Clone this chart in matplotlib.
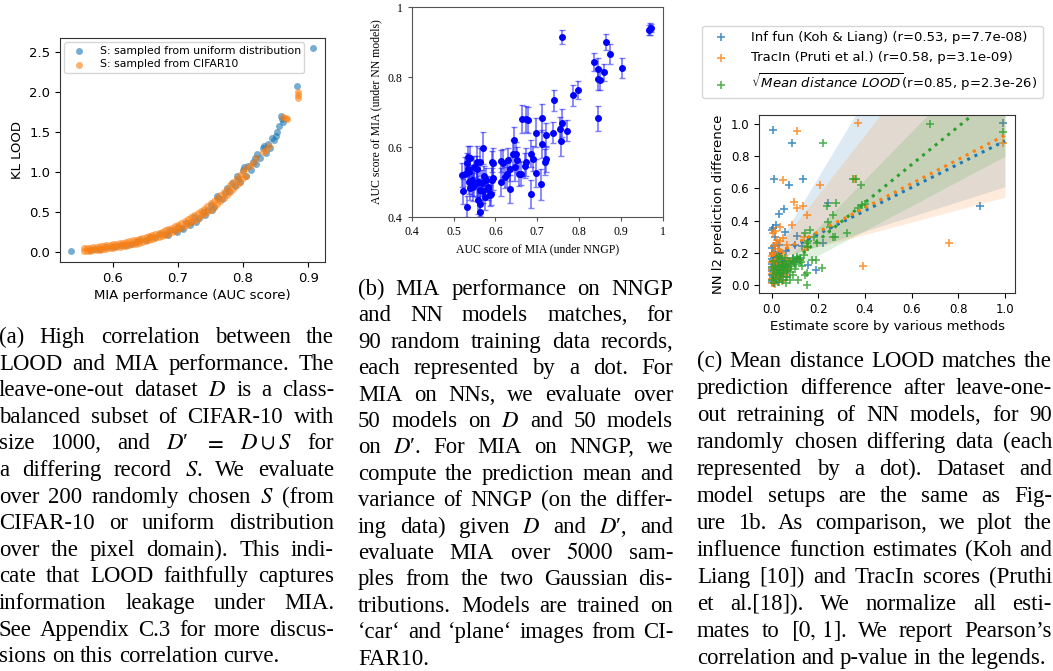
import re

import matplotlib
matplotlib.use("Agg")
import matplotlib.pyplot as plt
from matplotlib.ticker import FuncFormatter


FIG_W = 1053
FIG_H = 671
DPI = 100

BLUE = "#1f77b4"
ORANGE = "#ff7f0e"
GREEN = "#2ca02c"

# panel (a): KL LOOD against MIA AUC
UNIFORM_AUC = [0.535, 0.565, 0.572, 0.580, 0.590, 0.598, 0.605, 0.612, 0.620, 0.628,
	0.635, 0.642, 0.650, 0.657, 0.665, 0.672, 0.680, 0.688, 0.695, 0.700,
	0.705, 0.712, 0.720, 0.725, 0.732, 0.738, 0.745, 0.750, 0.755, 0.762,
	0.768, 0.772, 0.778, 0.783, 0.788, 0.792, 0.796, 0.800, 0.805, 0.808,
	0.812, 0.815, 0.820, 0.822, 0.826, 0.830, 0.835, 0.838, 0.842, 0.845,
	0.848, 0.852, 0.855, 0.858, 0.862, 0.860, 0.883, 0.907, 0.685, 0.698,
	0.708, 0.718, 0.728, 0.742, 0.752, 0.760, 0.775, 0.790, 0.802, 0.818,
	0.832, 0.850]
UNIFORM_KL = [0.010, 0.028, 0.032, 0.040, 0.058, 0.066, 0.080, 0.088, 0.092, 0.105,
	0.125, 0.150, 0.155, 0.185, 0.185, 0.220, 0.230, 0.275, 0.270, 0.310,
	0.300, 0.360, 0.380, 0.440, 0.430, 0.500, 0.520, 0.590, 0.560, 0.680,
	0.660, 0.740, 0.760, 0.860, 0.820, 0.910, 0.880, 1.020, 0.950, 1.070,
	1.030, 1.130, 1.100, 1.220, 1.170, 1.300, 1.240, 1.350, 1.300, 1.420,
	1.400, 1.500, 1.580, 1.700, 1.620, 1.660, 2.070, 2.550, 0.215, 0.255,
	0.290, 0.335, 0.380, 0.460, 0.520, 0.700, 0.800, 0.950, 1.060, 1.180,
	1.330, 1.450]

CIFAR_AUC = [0.556, 0.556, 0.560, 0.560, 0.565, 0.565, 0.570, 0.570, 0.575, 0.575,
	0.580, 0.580, 0.585, 0.585, 0.590, 0.590, 0.595, 0.595, 0.600, 0.600,
	0.605, 0.605, 0.610, 0.610, 0.615, 0.615, 0.620, 0.620, 0.625, 0.625,
	0.630, 0.630, 0.635, 0.635, 0.640, 0.640, 0.645, 0.645, 0.650, 0.650,
	0.655, 0.655, 0.660, 0.660, 0.665, 0.665, 0.670, 0.670, 0.675, 0.675,
	0.680, 0.680, 0.685, 0.685, 0.690, 0.690, 0.695, 0.695, 0.700, 0.700,
	0.705, 0.705, 0.710, 0.710, 0.715, 0.715, 0.720, 0.720, 0.725, 0.725,
	0.730, 0.730, 0.735, 0.735, 0.740, 0.740, 0.745, 0.745, 0.750, 0.750,
	0.755, 0.755, 0.760, 0.760, 0.765, 0.765, 0.770, 0.770, 0.775, 0.775,
	0.780, 0.780, 0.785, 0.785, 0.790, 0.790, 0.795, 0.795, 0.800, 0.800,
	0.805, 0.805, 0.810, 0.815, 0.820, 0.830, 0.835, 0.840, 0.862, 0.866,
	0.868, 0.885, 0.885, 0.885]
CIFAR_KL = [0.047, 0.011, 0.050, 0.013, 0.055, 0.017, 0.060, 0.021, 0.065, 0.025,
	0.070, 0.030, 0.076, 0.035, 0.082, 0.041, 0.088, 0.047, 0.095, 0.053,
	0.103, 0.059, 0.110, 0.065, 0.117, 0.072, 0.125, 0.079, 0.134, 0.087,
	0.144, 0.096, 0.153, 0.105, 0.163, 0.115, 0.174, 0.125, 0.186, 0.136,
	0.199, 0.147, 0.211, 0.159, 0.224, 0.172, 0.238, 0.185, 0.253, 0.199,
	0.270, 0.214, 0.286, 0.229, 0.304, 0.246, 0.323, 0.264, 0.343, 0.283,
	0.364, 0.303, 0.386, 0.324, 0.409, 0.346, 0.433, 0.369, 0.460, 0.392,
	0.486, 0.417, 0.514, 0.444, 0.543, 0.472, 0.574, 0.501, 0.607, 0.531,
	0.640, 0.564, 0.675, 0.597, 0.712, 0.632, 0.750, 0.669, 0.791, 0.707,
	0.832, 0.747, 0.874, 0.789, 0.919, 0.832, 0.965, 0.876, 1.012, 0.922,
	1.045, 0.955, 1.080, 1.110, 1.170, 1.250, 1.270, 1.330, 1.690, 1.670,
	1.660, 2.000, 1.960, 1.930]

# panel (b): MIA AUC on NNGP vs NN
NNGP_AUC = [0.968, 0.971, 0.966, 0.760, 0.864, 0.874, 0.836, 0.902, 0.846, 0.860,
	0.846, 0.850, 0.798, 0.786, 0.740, 0.846, 0.664, 0.674, 0.678, 0.712,
	0.760, 0.770, 0.755, 0.738, 0.697, 0.720, 0.645, 0.757, 0.710, 0.571,
	0.686, 0.642, 0.648, 0.689, 0.721, 0.718, 0.614, 0.618, 0.651, 0.629,
	0.673, 0.556, 0.564, 0.592, 0.594, 0.534, 0.540, 0.670, 0.647, 0.635,
	0.520, 0.528, 0.536, 0.628, 0.696, 0.661, 0.657, 0.622, 0.613, 0.594,
	0.578, 0.544, 0.548, 0.536, 0.556, 0.558, 0.568, 0.522, 0.546, 0.540,
	0.563, 0.571, 0.582, 0.588, 0.590, 0.635, 0.684, 0.709, 0.574, 0.559,
	0.562, 0.531, 0.562, 0.581, 0.532, 0.556, 0.534, 0.549, 0.573, 0.592]
NN_AUC = [0.937, 0.940, 0.935, 0.913, 0.900, 0.866, 0.843, 0.825, 0.823, 0.813,
	0.795, 0.792, 0.763, 0.748, 0.734, 0.682, 0.680, 0.680, 0.677, 0.682,
	0.669, 0.646, 0.651, 0.641, 0.641, 0.634, 0.620, 0.617, 0.608, 0.598,
	0.581, 0.581, 0.580, 0.567, 0.566, 0.557, 0.560, 0.553, 0.564, 0.562,
	0.556, 0.558, 0.556, 0.558, 0.553, 0.572, 0.570, 0.547, 0.543, 0.538,
	0.519, 0.524, 0.529, 0.522, 0.527, 0.524, 0.524, 0.513, 0.500, 0.512,
	0.507, 0.505, 0.497, 0.500, 0.496, 0.500, 0.497, 0.473, 0.486, 0.483,
	0.478, 0.475, 0.481, 0.462, 0.467, 0.479, 0.467, 0.493, 0.457, 0.448,
	0.436, 0.429, 0.413, 0.486, 0.553, 0.538, 0.536, 0.543, 0.517, 0.505]
NN_AUC_ERR = [0.016, 0.012, 0.014, 0.020, 0.022, 0.028, 0.026, 0.028, 0.030, 0.024,
	0.032, 0.030, 0.025, 0.030, 0.030, 0.035, 0.040, 0.038, 0.036, 0.040,
	0.040, 0.030, 0.035, 0.030, 0.042, 0.035, 0.036, 0.042, 0.040, 0.046,
	0.038, 0.040, 0.034, 0.035, 0.038, 0.036, 0.032, 0.040, 0.036, 0.034,
	0.040, 0.046, 0.040, 0.030, 0.045, 0.030, 0.034, 0.036, 0.040, 0.034,
	0.034, 0.046, 0.040, 0.036, 0.040, 0.032, 0.036, 0.030, 0.040, 0.036,
	0.032, 0.044, 0.036, 0.034, 0.040, 0.050, 0.036, 0.036, 0.040, 0.034,
	0.030, 0.036, 0.032, 0.030, 0.034, 0.040, 0.040, 0.045, 0.036, 0.040,
	0.032, 0.030, 0.036, 0.030, 0.030, 0.036, 0.032, 0.030, 0.030, 0.034]

# panel (c): normalised estimates vs NN prediction difference
INF_SCORE = [0.007, 0.086, 0.010, 0.074, 0.133, 0.993, 0.893, 0.243, 0.033, 0.053,
	0.019, 0.001, 0.007, 0.057, 0.110, 0.221, 0.157, 0.001, 0.007, 0.015,
	0.190, 0.000, 0.005, 0.010, 0.000, 0.015, 0.020, 0.025, 0.030, 0.005,
	0.010, 0.035, 0.040, 0.045, 0.050, 0.020, 0.000, 0.012, 0.028, 0.055,
	0.060, 0.008, 0.018, 0.033, 0.065, 0.070, 0.000, 0.004, 0.022, 0.042,
	0.080, 0.090, 0.100, 0.120, 0.003, 0.014, 0.026, 0.038, 0.048, 0.002,
	0.016, 0.011, 0.044, 0.009, 0.030, 0.060, 0.100, 0.130]
INF_DIFF = [0.963, 0.884, 0.656, 0.621, 0.656, 1.004, 0.493, 0.511, 0.439, 0.472,
	0.373, 0.342, 0.352, 0.327, 0.304, 0.263, 0.124, 0.228, 0.197, 0.300,
	0.093, 0.020, 0.050, 0.080, 0.100, 0.120, 0.040, 0.090, 0.150, 0.140,
	0.170, 0.060, 0.110, 0.030, 0.080, 0.160, 0.060, 0.010, 0.130, 0.120,
	0.050, 0.190, 0.070, 0.180, 0.150, 0.090, 0.130, 0.030, 0.110, 0.070,
	0.130, 0.160, 0.140, 0.170, 0.085, 0.045, 0.020, 0.095, 0.140, 0.160,
	0.205, 0.115, 0.165, 0.240, 0.250, 0.210, 0.250, 0.240]

TRAC_SCORE = [0.107, 0.371, 0.047, 0.207, 0.357, 0.097, 0.135, 0.107, 0.993, 0.760,
	0.390, 0.150, 0.086, 0.007, 0.021, 0.036, 0.036, 0.014, 0.050, 0.150,
	0.143, 0.121, 0.137, 0.040, 0.065, 0.028, 0.000, 0.004, 0.008, 0.002,
	0.012, 0.018, 0.024, 0.030, 0.006, 0.012, 0.034, 0.040, 0.046, 0.052,
	0.020, 0.000, 0.014, 0.026, 0.056, 0.062, 0.006, 0.016, 0.032, 0.068,
	0.072, 0.000, 0.002, 0.022, 0.044, 0.082, 0.010, 0.000, 0.018, 0.046,
	0.003, 0.030]
TRAC_DIFF = [0.958, 1.004, 0.652, 0.621, 0.658, 0.517, 0.490, 0.476, 0.880, 0.259,
	0.118, 0.435, 0.373, 0.321, 0.280, 0.270, 0.362, 0.335, 0.290, 0.238,
	0.217, 0.155, 0.300, 0.180, 0.250, 0.225, 0.010, 0.040, 0.075, 0.110,
	0.135, 0.055, 0.095, 0.160, 0.150, 0.185, 0.065, 0.120, 0.025, 0.090,
	0.170, 0.070, 0.005, 0.140, 0.130, 0.060, 0.200, 0.080, 0.190, 0.160,
	0.100, 0.140, 0.035, 0.120, 0.075, 0.140, 0.240, 0.180, 0.260, 0.200,
	0.095, 0.045]

LOOD_SCORE = [0.679, 0.993, 0.219, 0.350, 0.360, 0.381, 0.274, 0.236, 0.261, 0.371,
	0.386, 0.164, 0.143, 0.250, 0.271, 0.261, 0.324, 0.190, 0.214, 0.171,
	0.153, 0.143, 0.150, 0.114, 0.079, 0.050, 0.121, 0.093, 0.107, 0.140,
	0.150, 0.157, 0.043, 0.193, 0.157, 0.180, 0.400, 0.240, 0.000, 0.005,
	0.010, 0.015, 0.020, 0.025, 0.030, 0.035, 0.040, 0.045, 0.050, 0.055,
	0.060, 0.065, 0.070, 0.075, 0.080, 0.085, 0.090, 0.095, 0.100, 0.105,
	0.110, 0.012, 0.022, 0.032, 0.042, 0.052, 0.062, 0.008, 0.018, 0.028,
	0.038, 0.048, 0.058, 0.068, 0.003, 0.033, 0.125, 0.130]
LOOD_DIFF = [1.000, 0.952, 0.880, 0.656, 0.658, 0.621, 0.511, 0.493, 0.435, 0.476,
	0.497, 0.342, 0.321, 0.362, 0.300, 0.300, 0.321, 0.155, 0.104, 0.155,
	0.072, 0.062, 0.000, 0.031, 0.031, 0.072, 0.155, 0.166, 0.176, 0.186,
	0.263, 0.238, 0.124, 0.259, 0.270, 0.300, 0.500, 0.390, 0.030, 0.060,
	0.090, 0.120, 0.045, 0.100, 0.140, 0.070, 0.160, 0.110, 0.030, 0.090,
	0.130, 0.050, 0.110, 0.150, 0.080, 0.120, 0.060, 0.140, 0.100, 0.130,
	0.160, 0.010, 0.175, 0.020, 0.055, 0.145, 0.015, 0.150, 0.075, 0.110,
	0.095, 0.125, 0.165, 0.085, 0.110, 0.180, 0.140, 0.120]

# fitted lines and confidence bands, at x = 0 and x = 1
FIT_X = [0.0, 1.0]
INF_FIT = [0.172, 0.895]
TRAC_FIT = [0.180, 0.930]
LOOD_FIT = [0.040, 1.220]
INF_BAND_LOW = [0.150, 0.610]
INF_BAND_HIGH = [0.190, 2.600]
TRAC_BAND_LOW = [0.160, 0.545]
TRAC_BAND_HIGH = [0.190, 2.050]
LOOD_BAND_LOW = [0.030, 0.800]
LOOD_BAND_HIGH = [0.060, 1.550]

INF_LABEL = "Inf fun (Koh & Liang) (r=0.53, p=7.7e-08)"
TRAC_LABEL = "TracIn (Pruti et al.) (r=0.58, p=3.1e-09)"
LOOD_LABEL = r"$\sqrt{Mean\ distance\ LOOD}$(r=0.85, p=2.3e-26)"

CAPTION_A = [
	"(a) High correlation between the",
	"LOOD and MIA performance. The",
	"leave-one-out dataset $D$ is a class-",
	"balanced subset of CIFAR-10 with",
	"size 1000, and $D$\u2032 $=$ $D\\:\\cup\\:S$ for",
	"a differing record $S$. We evaluate",
	"over 200 randomly chosen $S$ (from",
	"CIFAR-10 or uniform distribution",
	"over the pixel domain). This indi-",
	"cate that LOOD faithfully captures",
	"information leakage under MIA.",
	"See Appendix C.3 for more discus-",
	"sions on this correlation curve.",
]
CAPTION_B = [
	"(b) MIA performance on NNGP",
	"and NN models matches, for",
	"90 random training data records,",
	"each represented by a dot. For",
	"MIA on NNs, we evaluate over",
	"50 models on $D$ and 50 models",
	"on $D$\u2032. For MIA on NNGP, we",
	"compute the prediction mean and",
	"variance of NNGP (on the differ-",
	"ing data) given $D$ and $D$\u2032, and",
	"evaluate MIA over $5000$ sam-",
	"ples from the two Gaussian dis-",
	"tributions. Models are trained on",
	"\u2018car\u2018 and \u2018plane\u2018 images from CI-",
	"FAR10.",
]
CAPTION_C = [
	"(c) Mean distance LOOD matches the",
	"prediction difference after leave-one-",
	"out retraining of NN models, for 90",
	"randomly chosen differing data (each",
	"represented by a dot). Dataset and",
	"model setups are the same as Fig-",
	"ure 1b. As comparison, we plot the",
	"influence function estimates (Koh and",
	"Liang [10]) and TracIn scores (Pruthi",
	"et al.[18]). We normalize all esti-",
	"mates to $[0,\\,1]$. We report Pearson\u2019s",
	"correlation and p-value in the legends.",
]


def axesRect(left, top, right, bottom):
	# pixel box (y from the top) -> figure fraction rect
	return [left / FIG_W, 1 - bottom / FIG_H, (right - left) / FIG_W, (bottom - top) / FIG_H]


def drawCaption(fig, renderer, lines, left_px, right_px, first_baseline, step, size):
	for row, line in enumerate(lines):
		words = re.findall(r"(?:\$[^$]*\$|[^\s$])+", line)
		texts = []
		widths = []
		for word in words:
			text = fig.text(0, 0, word, fontsize=size,
				family=["Liberation Serif", "DejaVu Serif"],
				math_fontfamily="stix", ha="left", va="baseline")
			texts.append(text)
			widths.append(text.get_window_extent(renderer).width)
		space = 0.25 * size * DPI / 72
		if row == len(lines) - 1 or len(words) < 2:
			gap = space
		else:
			gap = max((right_px - left_px - sum(widths)) / (len(words) - 1), 0.4 * space)
		x = left_px
		y = FIG_H - (first_baseline + row * step)
		for text, width in zip(texts, widths):
			text.set_position((x / FIG_W, y / FIG_H))
			x += width + gap


def styleSpines(ax, color):
	for spine in ax.spines.values():
		spine.set_color(color)


def drawPanelA(fig):
	ax = fig.add_axes(axesRect(60, 38, 325, 262))
	ax.scatter(UNIFORM_AUC, UNIFORM_KL, s=25, color=BLUE, alpha=0.6, linewidths=0,
		label="S: sampled from uniform distribution")
	ax.scatter(CIFAR_AUC, CIFAR_KL, s=25, color=ORANGE, alpha=0.6, linewidths=0,
		label="S: sampled from CIFAR10")
	ax.set_xlim(0.5185, 0.926)
	ax.set_ylim(-0.125, 2.675)
	ax.set_xticks([0.6, 0.7, 0.8, 0.9])
	ax.set_yticks([0.0, 0.5, 1.0, 1.5, 2.0, 2.5])
	ax.tick_params(labelsize=9.5)
	ax.set_xlabel("MIA performance (AUC score)", fontsize=9.5, labelpad=3)
	ax.set_ylabel("KL LOOD", fontsize=9.5)
	ax.legend(loc="upper left", fontsize=7.8, handletextpad=0.9, borderaxespad=0.4,
		borderpad=0.35, labelspacing=0.3)
	styleSpines(ax, "#333333")


def drawPanelB(fig):
	ax = fig.add_axes(axesRect(411.7, 7, 663, 217))
	ax.errorbar(NNGP_AUC, NN_AUC, yerr=NN_AUC_ERR, fmt="o", color="blue", markersize=4,
		ecolor=(0.1, 0.1, 1.0, 0.55), elinewidth=1.3, capsize=2, capthick=1.0)
	ax.set_xlim(0.4, 1.0)
	ax.set_ylim(0.4, 1.0)
	ax.set_xticks([0.4, 0.5, 0.6, 0.7, 0.8, 0.9, 1.0])
	ax.set_yticks([0.4, 0.6, 0.8, 1.0])
	short = FuncFormatter(lambda value, pos: f"{value:g}")
	ax.xaxis.set_major_formatter(short)
	ax.yaxis.set_major_formatter(short)
	for label in ax.get_xticklabels() + ax.get_yticklabels():
		label.set_family("Liberation Serif")
		label.set_fontsize(8.5)
	ax.tick_params(length=3, color="#555555")
	ax.set_xlabel("AUC score of MIA (under NNGP)", fontsize=8.5, family="Liberation Serif")
	ax.set_ylabel("AUC score of MIA (under NN models)", fontsize=8.5, family="Liberation Serif")
	styleSpines(ax, "#555555")


def drawPanelC(fig):
	ax = fig.add_axes(axesRect(759, 115, 1015, 293))
	series = [
		(INF_SCORE, INF_DIFF, INF_FIT, INF_BAND_LOW, INF_BAND_HIGH, BLUE, INF_LABEL),
		(TRAC_SCORE, TRAC_DIFF, TRAC_FIT, TRAC_BAND_LOW, TRAC_BAND_HIGH, ORANGE, TRAC_LABEL),
		(LOOD_SCORE, LOOD_DIFF, LOOD_FIT, LOOD_BAND_LOW, LOOD_BAND_HIGH, GREEN, LOOD_LABEL),
	]
	for score, diff, fit, low, high, color, label in series:
		ax.scatter(score, diff, marker="+", s=30, linewidths=1.2, color=color, alpha=0.8,
			label=label)
		ax.fill_between(FIT_X, low, high, color=color, alpha=0.15, linewidth=0)
		ax.plot(FIT_X, fit, linestyle=":", linewidth=2.2, color=color)
	ax.set_xlim(-0.054, 1.043)
	ax.set_ylim(-0.05, 1.056)
	ax.set_xticks([0.0, 0.2, 0.4, 0.6, 0.8, 1.0])
	ax.set_yticks([0.0, 0.2, 0.4, 0.6, 0.8, 1.0])
	ax.tick_params(labelsize=8.5)
	ax.set_xlabel("Estimate score by various methods", fontsize=9.5, labelpad=3)
	ax.set_ylabel("NN l2 prediction difference", fontsize=9.5)
	styleSpines(ax, "#333333")
	ax.legend(loc="lower center", bbox_to_anchor=(872.5 / FIG_W, 1 - 105 / FIG_H),
		bbox_transform=fig.transFigure, fontsize=9.5, handletextpad=1.3,
		labelspacing=0.55)


def main():
	fig = plt.figure(figsize=(FIG_W / DPI, FIG_H / DPI), dpi=DPI)
	drawPanelA(fig)
	drawPanelB(fig)
	drawPanelC(fig)

	renderer = fig.canvas.get_renderer()
	drawCaption(fig, renderer, CAPTION_A, -1, 334, 343, 26.6, 16.4)
	drawCaption(fig, renderer, CAPTION_B, 358, 673, 295, 26.4, 16.4)
	drawCaption(fig, renderer, CAPTION_C, 697, 1052, 367, 27.0, 16.4)

	fig.savefig("out.png", dpi=DPI)
	plt.close(fig)


if __name__ == "__main__":
	main()
